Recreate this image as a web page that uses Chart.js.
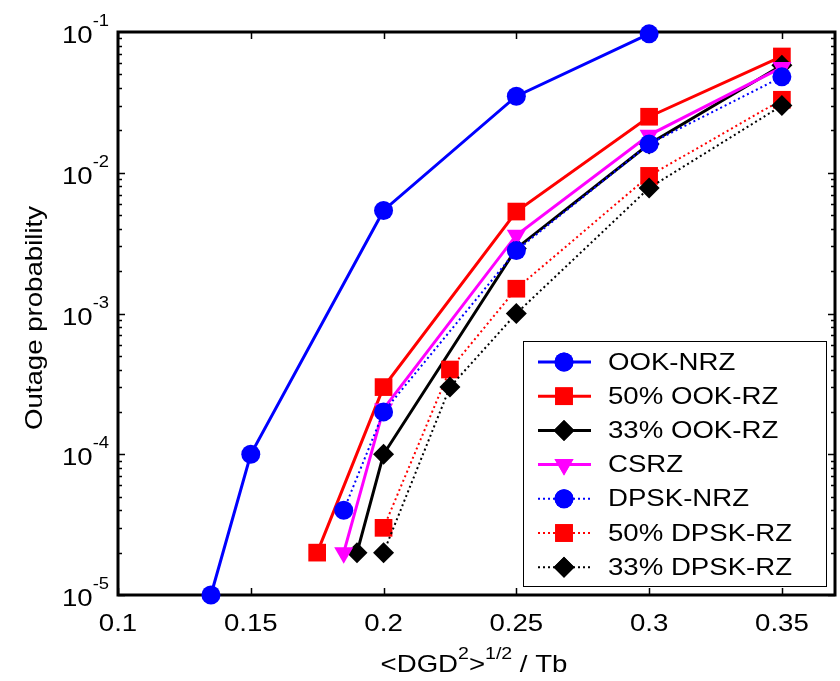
<!DOCTYPE html>
<html>
<head>
<meta charset="utf-8">
<script src="https://cdn.jsdelivr.net/npm/chart.js@4.4.1/dist/chart.umd.min.js"></script>
<style>
  html, body { margin: 0; padding: 0; background: #fff; }
  #wrap { width: 840px; height: 681px; }
</style>
</head>
<body>
<div id="wrap"><canvas id="c" width="840" height="681"></canvas></div>
<script>
// valores
const xTicks = [0.1, 0.15, 0.2, 0.25, 0.3, 0.35];
const yTicks = [1e-5, 1e-4, 1e-3, 1e-2, 1e-1];

const ookNrzX = [0.135, 0.15, 0.2, 0.25, 0.3];
const ookNrzY = [1e-5, 1e-4, 5.4e-3, 0.035, 0.097];

const ookRz50X = [0.175, 0.2, 0.25, 0.3, 0.35];
const ookRz50Y = [2e-5, 3e-4, 5.3e-3, 0.025, 0.067];

const ookRz33X = [0.19, 0.2, 0.25, 0.3, 0.35];
const ookRz33Y = [2e-5, 1e-4, 2.9e-3, 0.016, 0.058];

const csrzX = [0.185, 0.2, 0.25, 0.3, 0.35];
const csrzY = [2e-5, 2.1e-4, 3.6e-3, 0.0185, 0.056];

const dpskNrzX = [0.185, 0.2, 0.25, 0.3, 0.35];
const dpskNrzY = [4e-5, 2e-4, 2.8e-3, 0.016, 0.048];

const dpskRz50X = [0.2, 0.225, 0.25, 0.3, 0.35];
const dpskRz50Y = [3e-5, 4e-4, 1.5e-3, 9.5e-3, 0.033];

const dpskRz33X = [0.2, 0.225, 0.25, 0.3, 0.35];
const dpskRz33Y = [2e-5, 3e-4, 1e-3, 7.8e-3, 0.03];

const FONT = '"Liberation Sans", Arial, sans-serif';
const STRETCH = 1.15; // el texto original sale algo ensanchado

function pts(xs, ys) {
  return xs.map((x, i) => ({ x, y: ys[i] }));
}

// texto ensanchado horizontalmente; align: left | center | right
function wideText(ctx, txt, x, y, size, align) {
  ctx.font = size + "px " + FONT;
  const w = ctx.measureText(txt).width * STRETCH;
  let x0 = x;
  if (align === "center") x0 = x - w / 2;
  if (align === "right") x0 = x - w;
  ctx.save();
  ctx.translate(x0, y);
  ctx.scale(STRETCH, 1);
  ctx.textAlign = "left";
  ctx.fillText(txt, 0, 0);
  ctx.restore();
  return w;
}
function textW(ctx, txt, size) {
  ctx.font = size + "px " + FONT;
  return ctx.measureText(txt).width * STRETCH;
}

const series = [
  { label: "OOK-NRZ", xs: ookNrzX, ys: ookNrzY, color: "#0000ff", style: "circle", r: 9.5, rot: 0, dotted: false },
  { label: "50% OOK-RZ", xs: ookRz50X, ys: ookRz50Y, color: "#ff0000", style: "rect", r: 12.5, rot: 0, dotted: false },
  { label: "33% OOK-RZ", xs: ookRz33X, ys: ookRz33Y, color: "#000000", style: "rectRot", r: 10.5, rot: 0, dotted: false },
  { label: "CSRZ", xs: csrzX, ys: csrzY, color: "#ff00ff", style: "triangle", r: 11, rot: 180, dotted: false },
  { label: "DPSK-NRZ", xs: dpskNrzX, ys: dpskNrzY, color: "#0000ff", style: "circle", r: 9.5, rot: 0, dotted: true },
  { label: "50% DPSK-RZ", xs: dpskRz50X, ys: dpskRz50Y, color: "#ff0000", style: "rect", r: 12.5, rot: 0, dotted: true },
  { label: "33% DPSK-RZ", xs: dpskRz33X, ys: dpskRz33Y, color: "#000000", style: "rectRot", r: 10.5, rot: 0, dotted: true },
];

const datasets = series.map((s, i) => ({
  label: s.label,
  data: pts(s.xs, s.ys),
  borderColor: s.color,
  backgroundColor: s.color,
  borderWidth: s.dotted ? 2 : 3,
  borderDash: s.dotted ? [2, 3] : [],
  pointStyle: s.style,
  pointRadius: s.r,
  pointRotation: s.rot,
  pointBorderWidth: 0,
  pointBackgroundColor: s.color,
  tension: 0,
  clip: false,
  order: series.length - i,
}));

function noPad(s) {
  s.paddingLeft = 0; s.paddingRight = 0; s.paddingTop = 0; s.paddingBottom = 0;
}

// ejes estilo matlab: marco, ticks hacia adentro, etiquetas 10^n
const matlabAxes = {
  id: "matlabAxes",
  beforeDatasetsDraw(chart) {
    const { ctx, chartArea: a, scales } = chart;
    const xs = scales.x, ys = scales.y;
    ctx.save();
    ctx.strokeStyle = "#000";
    ctx.lineWidth = 1.5;
    ctx.beginPath();
    xTicks.forEach((v) => {
      const px = Math.round(xs.getPixelForValue(v)) + 0.5;
      ctx.moveTo(px, a.bottom); ctx.lineTo(px, a.bottom - 7);
      ctx.moveTo(px, a.top); ctx.lineTo(px, a.top + 7);
    });
    for (let e = -5; e < -1; e++) {
      for (let m = 1; m <= 9; m++) {
        const v = m * Math.pow(10, e);
        const py = Math.round(ys.getPixelForValue(v)) + 0.5;
        const len = m === 1 ? 7 : 4;
        ctx.moveTo(a.left, py); ctx.lineTo(a.left + len, py);
        ctx.moveTo(a.right, py); ctx.lineTo(a.right - len, py);
      }
    }
    ctx.stroke();
    ctx.lineWidth = 3;
    ctx.strokeRect(a.left, a.top, a.right - a.left, a.bottom - a.top);

    ctx.fillStyle = "#000";
    ctx.textBaseline = "alphabetic";
    // etiquetas x
    xTicks.forEach((v) => {
      wideText(ctx, String(v), xs.getPixelForValue(v), a.bottom + 36, 24, "center");
    });
    // etiquetas y
    yTicks.forEach((v) => {
      const py = ys.getPixelForValue(v);
      const exp = String(Math.round(Math.log10(v)));
      const ew = textW(ctx, exp, 16);
      wideText(ctx, exp, a.left - 9 - ew, py - 6, 16, "left");
      wideText(ctx, "10", a.left - 9 - ew, py + 11, 24, "right");
    });

    // título y
    ctx.save();
    ctx.translate(42, 318);
    ctx.rotate(-Math.PI / 2);
    wideText(ctx, "Outage probability", 0, 0, 24, "center");
    ctx.restore();

    // título x con superíndices
    const parts = [
      { t: "<DGD", sup: false }, { t: "2", sup: true }, { t: ">", sup: false },
      { t: "1/2", sup: true }, { t: " / Tb", sup: false },
    ];
    let total = 0;
    parts.forEach((p) => {
      p.w = textW(ctx, p.t, p.sup ? 17 : 24);
      total += p.w;
    });
    let cx = 474 - total / 2;
    parts.forEach((p) => {
      wideText(ctx, p.t, cx, p.sup ? 659 : 672, p.sup ? 17 : 24, "left");
      cx += p.w;
    });
    ctx.restore();
  },
  afterDraw(chart) {
    const { ctx } = chart;
    const bx = 523, by = 341, bw = 303, bh = 245;
    ctx.save();
    ctx.fillStyle = "#fff";
    ctx.fillRect(bx, by, bw, bh);
    ctx.strokeStyle = "#000";
    ctx.lineWidth = 1;
    ctx.strokeRect(bx + 0.5, by + 0.5, bw, bh);
    series.forEach((s, i) => {
      const y = 362 + i * 34.2;
      ctx.strokeStyle = s.color;
      ctx.lineWidth = s.dotted ? 2 : 3;
      ctx.setLineDash(s.dotted ? [2, 3] : []);
      ctx.beginPath();
      ctx.moveTo(538, y); ctx.lineTo(591, y);
      ctx.stroke();
      ctx.setLineDash([]);
      ctx.fillStyle = s.color;
      Chart.helpers.drawPoint(ctx, { pointStyle: s.style, radius: s.r, rotation: s.rot, borderWidth: 0 }, 564, y);
      ctx.fill();
      ctx.fillStyle = "#000";
      ctx.textBaseline = "middle";
      wideText(ctx, s.label, 608, y + 1, 24, "left");
    });
    ctx.restore();
  },
};

new Chart(document.getElementById("c"), {
  type: "line",
  data: { datasets },
  options: {
    responsive: false,
    animation: false,
    layout: { autoPadding: false, padding: { left: 0, top: 32, right: 5, bottom: 0 } },
    plugins: { legend: { display: false }, tooltip: { enabled: false } },
    scales: {
      x: {
        type: "linear",
        min: 0.1,
        max: 0.37,
        ticks: { display: false },
        grid: { display: false },
        border: { display: false },
        afterFit: (s) => { s.height = 86; noPad(s); },
      },
      y: {
        type: "logarithmic",
        min: 1e-5,
        max: 1e-1,
        ticks: { display: false },
        grid: { display: false },
        border: { display: false },
        afterFit: (s) => { s.width = 118; noPad(s); },
      },
    },
  },
  plugins: [matlabAxes],
});
</script>
</body>
</html>
